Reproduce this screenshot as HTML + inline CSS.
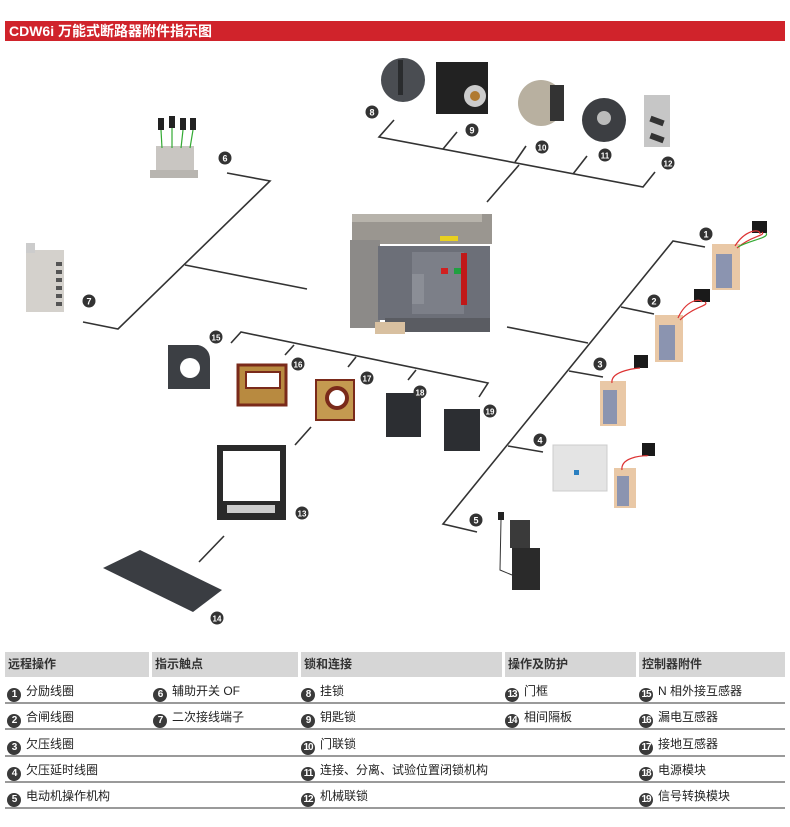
<!DOCTYPE html>
<html><head><meta charset="utf-8"><style>
html,body{margin:0;padding:0;background:#fff;}
body{width:790px;height:827px;position:relative;overflow:hidden;font-family:"Liberation Sans","Noto Sans CJK SC",sans-serif;}
.hdr{position:absolute;left:5px;top:21px;width:780px;height:20px;background:#d0232b;color:#fff;font-weight:bold;font-size:14px;line-height:20px;padding-left:4px;box-sizing:border-box;}
svg{position:absolute;left:0;top:0;}
.tb{position:absolute;left:5px;top:652px;width:780px;}
.hrow{position:absolute;top:0;height:25px;background:#d6d6d6;font-size:12px;font-weight:bold;color:#333;line-height:25px;padding-left:3px;box-sizing:border-box;}
.cell{position:absolute;font-size:12px;color:#222;line-height:16px;white-space:nowrap;}
.b{display:inline-block;width:14px;height:14px;border-radius:50%;background:#3a3a3a;color:#fff;font-size:10px;font-weight:bold;text-align:center;line-height:14px;margin-right:5px;vertical-align:-2px;letter-spacing:-1px;}
.sep{position:absolute;left:0;width:780px;height:2px;background:#9a9a9a;}
</style></head><body>
<div class="hdr">CDW6i 万能式断路器附件指示图</div>
<svg width="790" height="640" viewBox="0 0 790 640">
<g stroke="#333" stroke-width="1.6" fill="none">
<!-- 6/7 -->
<polyline points="227,173 270,181 118,329 83,322"/>
<line x1="185" y1="265" x2="307" y2="289"/>
<!-- 8-12 -->
<polyline points="394,120 379,137 643,187 655,172"/>
<line x1="443" y1="149" x2="457" y2="132"/>
<line x1="515" y1="162" x2="526" y2="146"/>
<line x1="573" y1="174" x2="587" y2="156"/>
<line x1="519" y1="165" x2="487" y2="202"/>
<!-- 1-5 -->
<polyline points="705,247 673,241 443,524 477,532"/>
<line x1="621" y1="307" x2="654" y2="314"/>
<line x1="507" y1="327" x2="588" y2="343"/>
<line x1="569" y1="371" x2="603" y2="377"/>
<line x1="508" y1="446" x2="543" y2="452"/>
<!-- 15-19 -->
<polyline points="231,343 241,332 488,383 479,397"/>
<line x1="285" y1="355" x2="294" y2="345"/>
<line x1="348" y1="367" x2="356" y2="357"/>
<line x1="408" y1="380" x2="416" y2="370"/>
<line x1="295" y1="445" x2="311" y2="427"/>
<line x1="199" y1="562" x2="224" y2="536"/>
</g>
<!-- products -->
<!-- 6 aux switch -->
<g>
<rect x="156" y="146" width="38" height="28" fill="#c9c6c2"/>
<rect x="150" y="170" width="48" height="8" fill="#b8b5b0"/>
<g fill="#222"><rect x="158" y="118" width="6" height="12"/><rect x="169" y="116" width="6" height="12"/><rect x="180" y="118" width="6" height="12"/><rect x="190" y="118" width="6" height="12"/></g>
<g stroke="#3a3" stroke-width="1.2"><line x1="161" y1="130" x2="162" y2="148"/><line x1="172" y1="128" x2="172" y2="148"/><line x1="183" y1="130" x2="181" y2="148"/><line x1="193" y1="130" x2="190" y2="148"/></g>
</g>
<!-- 7 terminal -->
<rect x="26" y="250" width="38" height="62" fill="#d4d1cc"/>
<rect x="26" y="243" width="9" height="10" fill="#ccc"/>
<g fill="#555"><rect x="56" y="262" width="6" height="4"/><rect x="56" y="270" width="6" height="4"/><rect x="56" y="278" width="6" height="4"/><rect x="56" y="286" width="6" height="4"/><rect x="56" y="294" width="6" height="4"/><rect x="56" y="302" width="6" height="4"/></g>
<!-- 8 knob -->
<circle cx="403" cy="80" r="22" fill="#4a4d52"/>
<rect x="398" y="60" width="5" height="35" fill="#2a2c2e"/>
<!-- 9 key lock -->
<rect x="436" y="62" width="52" height="52" fill="#222"/>
<circle cx="475" cy="96" r="11" fill="#ccc"/><circle cx="475" cy="96" r="5" fill="#b07a30"/>
<!-- 10 -->
<circle cx="541" cy="103" r="23" fill="#b8b0a0"/>
<rect x="550" y="85" width="14" height="36" fill="#333"/>
<!-- 11 -->
<circle cx="604" cy="120" r="22" fill="#3c3e42"/>
<circle cx="604" cy="118" r="7" fill="#bbb"/>
<!-- 12 -->
<rect x="644" y="95" width="26" height="52" fill="#c6c6c6"/>
<rect x="650" y="118" width="14" height="6" fill="#333" transform="rotate(20 657 121)"/>
<rect x="650" y="135" width="14" height="6" fill="#333" transform="rotate(20 657 138)"/>
<!-- breaker -->
<g>
<rect x="352" y="214" width="140" height="30" fill="#9a9690"/>
<rect x="352" y="214" width="130" height="8" fill="#b7b3ab"/>
<rect x="440" y="236" width="18" height="5" fill="#e8d020"/>
<rect x="350" y="240" width="30" height="88" fill="#8c8a88"/>
<rect x="378" y="246" width="112" height="74" fill="#6c6f78"/>
<rect x="412" y="252" width="52" height="62" fill="#7c7f88"/>
<rect x="461" y="253" width="6" height="52" fill="#c01818"/>
<rect x="441" y="268" width="7" height="6" fill="#d02020"/><rect x="454" y="268" width="7" height="6" fill="#20a040"/>
<rect x="412" y="274" width="12" height="30" fill="#8b8e96"/>
<rect x="385" y="318" width="105" height="14" fill="#5a5c62"/>
<rect x="375" y="322" width="30" height="12" fill="#d8c0a0"/>
</g>
<!-- coils -->
<g>
<rect x="712" y="244" width="28" height="46" fill="#e9c8a6"/><rect x="716" y="254" width="16" height="34" fill="#8b94b0"/>
<rect x="752" y="221" width="15" height="12" fill="#1a1a1a"/>
<path d="M735 246 C745 230 760 228 760 234 M737 248 C752 235 766 236 762 232" stroke="#d33" fill="none" stroke-width="1.2"/>
<path d="M738 247 C750 240 770 238 766 233" stroke="#3a3" fill="none" stroke-width="1.2"/>
<rect x="655" y="315" width="28" height="47" fill="#e9c8a6"/><rect x="659" y="325" width="16" height="35" fill="#8b94b0"/>
<rect x="694" y="289" width="16" height="13" fill="#1a1a1a"/>
<path d="M678 318 C686 300 700 298 702 302 M680 320 C694 306 710 306 705 302" stroke="#d33" fill="none" stroke-width="1.2"/>
<rect x="600" y="381" width="26" height="45" fill="#e9c8a6"/><rect x="603" y="390" width="14" height="34" fill="#8b94b0"/>
<rect x="634" y="355" width="14" height="13" fill="#1a1a1a"/>
<path d="M612 383 C610 370 640 368 640 368" stroke="#d33" fill="none" stroke-width="1.2"/>
<rect x="553" y="445" width="54" height="46" fill="#e4e4e4" stroke="#ccc"/><rect x="574" y="470" width="5" height="5" fill="#2a7fc0"/>
<rect x="614" y="468" width="22" height="40" fill="#e9c8a6"/><rect x="617" y="476" width="12" height="30" fill="#8b94b0"/>
<rect x="642" y="443" width="13" height="13" fill="#1a1a1a"/>
<path d="M622 470 C620 456 648 455 648 456" stroke="#d33" fill="none" stroke-width="1.2"/>
</g>
<!-- 5 motor -->
<rect x="510" y="520" width="20" height="28" fill="#3a3a3a"/>
<rect x="512" y="548" width="28" height="42" fill="#2a2a2a"/>
<rect x="498" y="512" width="6" height="8" fill="#222"/>
<path d="M501 520 L500 570 L512 575" stroke="#333" fill="none"/>
<!-- 15-19 -->
<path d="M168 345 h30 a14 14 0 0 1 12 14 v30 h-42z" fill="#3c3f44"/>
<circle cx="190" cy="368" r="10" fill="#fff"/>
<rect x="238" y="365" width="48" height="40" fill="#b88a40" stroke="#7a2a1a" stroke-width="3"/>
<rect x="246" y="372" width="34" height="16" fill="#fff" stroke="#7a2a1a" stroke-width="2"/>
<rect x="316" y="380" width="38" height="40" fill="#c49a50" stroke="#7a2a1a" stroke-width="2"/>
<circle cx="337" cy="398" r="12" fill="#7a2a1a"/><circle cx="337" cy="398" r="8" fill="#fff"/>
<rect x="386" y="393" width="35" height="44" fill="#2c2e32"/>
<rect x="444" y="409" width="36" height="42" fill="#2c2e32"/>
<!-- 13 door frame -->
<rect x="217" y="445" width="69" height="75" fill="#2a2a2a"/>
<rect x="223" y="451" width="57" height="50" fill="#fff"/>
<rect x="227" y="505" width="48" height="8" fill="#ccc"/>
<!-- 14 -->
<polygon points="103,568 140,550 222,590 193,612" fill="#3a3d42"/>
<!-- badges -->
<g font-family="Liberation Sans,sans-serif" font-size="9" font-weight="bold" fill="#fff" text-anchor="middle">
<g><circle cx="225" cy="158" r="6.5" fill="#333"/><text x="225" y="161.5">6</text></g>
<g><circle cx="89" cy="301" r="6.5" fill="#333"/><text x="89" y="304.5">7</text></g>
<g><circle cx="372" cy="112" r="6.5" fill="#333"/><text x="372" y="115.5">8</text></g>
<g><circle cx="472" cy="130" r="6.5" fill="#333"/><text x="472" y="133.5">9</text></g>
<g><circle cx="542" cy="147" r="6.5" fill="#333"/><text x="542" y="150.5" font-size="8">10</text></g>
<g><circle cx="605" cy="155" r="6.5" fill="#333"/><text x="605" y="158.5" font-size="8">11</text></g>
<g><circle cx="668" cy="163" r="6.5" fill="#333"/><text x="668" y="166.5" font-size="8">12</text></g>
<g><circle cx="706" cy="234" r="6.5" fill="#333"/><text x="706" y="237.5">1</text></g>
<g><circle cx="654" cy="301" r="6.5" fill="#333"/><text x="654" y="304.5">2</text></g>
<g><circle cx="600" cy="364" r="6.5" fill="#333"/><text x="600" y="367.5">3</text></g>
<g><circle cx="540" cy="440" r="6.5" fill="#333"/><text x="540" y="443.5">4</text></g>
<g><circle cx="476" cy="520" r="6.5" fill="#333"/><text x="476" y="523.5">5</text></g>
<g><circle cx="216" cy="337" r="6.5" fill="#333"/><text x="216" y="340.5" font-size="8">15</text></g>
<g><circle cx="298" cy="364" r="6.5" fill="#333"/><text x="298" y="367.5" font-size="8">16</text></g>
<g><circle cx="367" cy="378" r="6.5" fill="#333"/><text x="367" y="381.5" font-size="8">17</text></g>
<g><circle cx="420" cy="392" r="6.5" fill="#333"/><text x="420" y="395.5" font-size="8">18</text></g>
<g><circle cx="490" cy="411" r="6.5" fill="#333"/><text x="490" y="414.5" font-size="8">19</text></g>
<g><circle cx="302" cy="513" r="6.5" fill="#333"/><text x="302" y="516.5" font-size="8">13</text></g>
<g><circle cx="217" cy="618" r="6.5" fill="#333"/><text x="217" y="621.5" font-size="8">14</text></g>
</g>
</svg>
<div class="tb">
<div class="hrow" style="left:0;width:144px">远程操作</div>
<div class="hrow" style="left:147px;width:146px">指示触点</div>
<div class="hrow" style="left:296px;width:201px">锁和连接</div>
<div class="hrow" style="left:500px;width:131px">操作及防护</div>
<div class="hrow" style="left:634px;width:146px">控制器附件</div>
<div class="sep" style="top:50px"></div>
<div class="sep" style="top:76px"></div>
<div class="sep" style="top:103px"></div>
<div class="sep" style="top:129px"></div>
<div class="sep" style="top:155px"></div>
<div class="cell" style="left:2px;top:31px"><span class="b">1</span>分励线圈</div>
<div class="cell" style="left:2px;top:57px"><span class="b">2</span>合闸线圈</div>
<div class="cell" style="left:2px;top:84px"><span class="b">3</span>欠压线圈</div>
<div class="cell" style="left:2px;top:110px"><span class="b">4</span>欠压延时线圈</div>
<div class="cell" style="left:2px;top:136px"><span class="b">5</span>电动机操作机构</div>
<div class="cell" style="left:148px;top:31px"><span class="b">6</span>辅助开关 OF</div>
<div class="cell" style="left:148px;top:57px"><span class="b">7</span>二次接线端子</div>
<div class="cell" style="left:296px;top:31px"><span class="b">8</span>挂锁</div>
<div class="cell" style="left:296px;top:57px"><span class="b">9</span>钥匙锁</div>
<div class="cell" style="left:296px;top:84px"><span class="b">10</span>门联锁</div>
<div class="cell" style="left:296px;top:110px"><span class="b">11</span>连接、分离、试验位置闭锁机构</div>
<div class="cell" style="left:296px;top:136px"><span class="b">12</span>机械联锁</div>
<div class="cell" style="left:500px;top:31px"><span class="b">13</span>门框</div>
<div class="cell" style="left:500px;top:57px"><span class="b">14</span>相间隔板</div>
<div class="cell" style="left:634px;top:31px"><span class="b">15</span>N 相外接互感器</div>
<div class="cell" style="left:634px;top:57px"><span class="b">16</span>漏电互感器</div>
<div class="cell" style="left:634px;top:84px"><span class="b">17</span>接地互感器</div>
<div class="cell" style="left:634px;top:110px"><span class="b">18</span>电源模块</div>
<div class="cell" style="left:634px;top:136px"><span class="b">19</span>信号转换模块</div>
</div>
</body></html>
